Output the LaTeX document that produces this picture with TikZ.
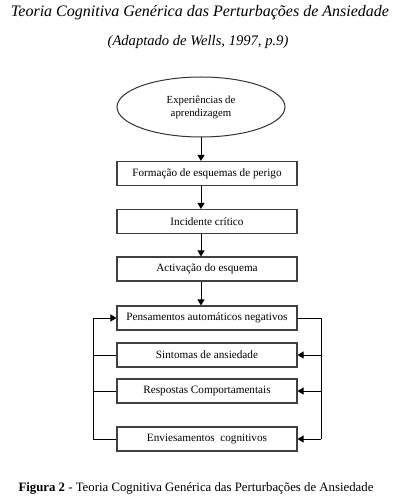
\documentclass[tikz,border=0pt]{standalone}
\usepackage{fontspec}
\setmainfont{Liberation Serif}
\usetikzlibrary{shapes.geometric,arrows.meta}
\begin{document}
\begin{tikzpicture}[x=1pt,y=-1pt,
  boxnode/.style={draw=black!75, line width=1.1pt, minimum width=180pt, minimum height=24pt, inner sep=0pt, font=\fontsize{11.2}{12}\selectfont},
  arr/.style={line width=1pt, -{Triangle[length=6pt,width=7pt]}},
  ln/.style={line width=1pt}]
\useasboundingbox (0,0) rectangle (400,502);
\fill[white] (0,0) rectangle (400,502);
\node (t1) at (200,13) {\fontsize{16}{18}\selectfont\itshape Teoria Cognitiva Genérica das Perturbações de Ansiedade};
\node (t2) at (198,42) {\fontsize{14.6}{16}\selectfont\itshape (Adaptado de Wells, 1997, p.9)};
\node[ellipse, draw=black!80, line width=1pt, minimum width=168pt, minimum height=60pt, inner sep=0pt, align=center, font=\fontsize{10.8}{13}\selectfont] (e) at (201,107) {Experiências de\\aprendizagem};
\node[boxnode] (b1) at (207,173.5) {Formação de esquemas de perigo};
\node[boxnode] (b2) at (207,221.5) {Incidente crítico};
\node[boxnode] (b3) at (207,269) {Activação do esquema};
\node[boxnode] (b4) at (207,318) {Pensamentos automáticos negativos};
\node[boxnode] (b5) at (207,355) {Sintomas de ansiedade};
\node[boxnode] (b6) at (207,391) {Respostas Comportamentais};
\node[boxnode] (b7) at (207,439) {Enviesamentos\ \ cognitivos};
\coordinate (L) at (93,0);
\coordinate (R) at (321,0);
\draw[arr] (e.south) -- (e.south |- b1.north);
\draw[arr] (e.south |- b1.south) -- (e.south |- b2.north);
\draw[arr] (e.south |- b2.south) -- (e.south |- b3.north);
\draw[arr] (e.south |- b3.south) -- (e.south |- b4.north);
\draw[arr] (b7.west) -- (L |- b7.west) -- (L |- b4.west) -- (b4.west);
\draw[ln] (b5.west) -- (L |- b5.west);
\draw[ln] (b6.west) -- (L |- b6.west);
\draw[ln] (b4.east) -- (R |- b4.east) -- (R |- b7.east);
\draw[arr] (R |- b5.east) -- (b5.east);
\draw[arr] (R |- b6.east) -- (b6.east);
\draw[arr] (R |- b7.east) -- (b7.east);
\node (cap) at (196,488) {\fontsize{12.8}{14}\selectfont\textbf{Figura 2} - Teoria Cognitiva Genérica das Perturbações de Ansiedade};
\end{tikzpicture}
\end{document}
